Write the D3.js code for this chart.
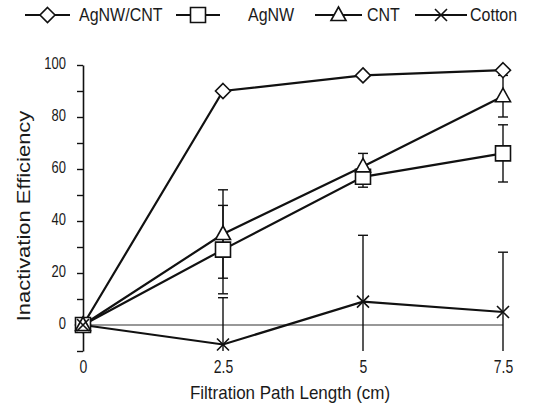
<!DOCTYPE html>
<html>
<head>
<meta charset="utf-8">
<script src="https://cdn.jsdelivr.net/npm/d3@7"></script>
<style>
  html, body { margin: 0; padding: 0; background: #fff; }
  #chart { width: 539px; height: 406px; }
</style>
</head>
<body>
<div id="chart"></div>
<script>
// ========== DATA ==========
const pathLengths = [0, 2.5, 5, 7.5];
const xTickLabels = ["0", "2.5", "5", "7.5"];
const yTickValues = [-10, 0, 10, 20, 30, 40, 50, 60, 70, 80, 90, 100];

const agnwCnt = [0, 90, 96, 98];
const agnwCntErr = [0, 0, 0, 0];
const agnw = [0, 29, 57, 66];
const agnwErr = [0, 17, 4, 11];
const cnt = [0, 35, 61, 88];
const cntErr = [0, 17, 5, 8];
const cotton = [0, -7.5, 9, 5];
const cottonErr = [0, 18, 25.5, 23];

const seriesNames = ["AgNW/CNT", "AgNW", "CNT", "Cotton"];
const seriesMarkers = ["diamond", "square", "triangle", "cross"];

// ========== MARKER SHAPES ==========
function markerPath(type) {
  if (type === "diamond") return "M0,-7.5L7.5,0L0,7.5L-7.5,0Z";
  if (type === "square") return "M-7.5,-7.5H7.5V7.5H-7.5Z";
  if (type === "triangle") return "M0,-8L7.5,5.5H-7.5Z";
  if (type === "cross") return "M-6,-6L6,6M-6,6L6,-6";
}

function drawMarker(group, type, x, y) {
  group.append("path")
    .attr("d", markerPath(type))
    .attr("transform", `translate(${x},${y})`)
    .style("fill", type === "cross" ? "none" : "#fff")
    .style("stroke", "#111")
    .style("stroke-width", 1.6);
}

// text that is a bit stretched, like the scanned figure
function drawText(group, str, x, y, opts = {}) {
  return group.append("text")
    .attr("transform", `translate(${x},${y}) rotate(${opts.rotate || 0}) scale(${opts.sx || 1},${opts.sy || 1})`)
    .style("font-family", "'Liberation Sans', Arial, sans-serif")
    .style("font-size", (opts.size || 14) + "px")
    .style("fill", "#1a1a1a")
    .style("text-anchor", opts.anchor || "start")
    .text(str);
}

// ========== CHART ==========
const width = 539;
const height = 406;

const svg = d3.select("#chart").append("svg")
  .attr("width", width)
  .attr("height", height);

const x = d3.scaleLinear().domain([0, 7.5]).range([83, 503]);
const y = d3.scaleLinear().domain([-10, 100]).range([351, 65]);

svg.append("clipPath").attr("id", "plot-clip")
  .append("rect")
  .attr("x", 0).attr("y", y(100) - 20)
  .attr("width", width).attr("height", y(-10) - y(100) + 20);

// zero line
svg.append("line")
  .attr("x1", x(0)).attr("x2", x(7.5))
  .attr("y1", y(0)).attr("y2", y(0))
  .style("stroke", "#333")
  .style("stroke-width", 1.2);

// y axis
const yAxis = svg.append("g")
  .attr("transform", `translate(${x(0)},0)`)
  .call(d3.axisLeft(y)
    .tickValues(yTickValues)
    .tickSize(6)
    .tickSizeOuter(0)
    .tickFormat(d => (d >= 0 && d % 20 === 0) ? d : ""));

yAxis.select(".domain").style("stroke", "#111").style("stroke-width", 1.6);
yAxis.selectAll(".tick line").style("stroke", "#111").style("stroke-width", 1.4);
yAxis.selectAll(".tick text")
  .attr("x", -17)
  .attr("dy", "0.2em")
  .attr("transform", "scale(1,1.25)")
  .style("font-family", "'Liberation Sans', Arial, sans-serif")
  .style("font-size", "13px")
  .style("fill", "#1a1a1a");

// x tick labels
const xAxis = svg.append("g")
  .attr("transform", `translate(0,${y(-10)})`)
  .call(d3.axisBottom(x)
    .tickValues(pathLengths)
    .tickSize(0)
    .tickFormat((d, i) => xTickLabels[i]));

xAxis.select(".domain").remove();
xAxis.selectAll(".tick text")
  .attr("y", 17.5)
  .attr("dy", 0)
  .attr("transform", "scale(1,1.25)")
  .style("font-family", "'Liberation Sans', Arial, sans-serif")
  .style("font-size", "14px")
  .style("fill", "#1a1a1a");

// axis titles
drawText(svg, "Filtration Path Length (cm)", 290, 399, { size: 17, sy: 1.1, anchor: "middle" });
drawText(svg, "Inactivation Efficiency", 30, 216, { size: 18, sx: 1.22, rotate: -90, anchor: "middle" });

// ========== SERIES ==========
const series = [
  { values: agnwCnt, errors: agnwCntErr },
  { values: agnw, errors: agnwErr },
  { values: cnt, errors: cntErr },
  { values: cotton, errors: cottonErr }
];

const line = d3.line()
  .x((d, i) => x(pathLengths[i]))
  .y(d => y(d));

const errGroup = svg.append("g").attr("clip-path", "url(#plot-clip)");
const lineGroup = svg.append("g");
const markGroup = svg.append("g");

series.forEach((s, k) => {
  // error bars
  s.values.forEach((v, i) => {
    const e = s.errors[i];
    if (!e) return;
    const cx = x(pathLengths[i]);
    errGroup.append("line")
      .attr("x1", cx).attr("x2", cx)
      .attr("y1", y(v + e)).attr("y2", y(v - e))
      .style("stroke", "#111").style("stroke-width", 1.4);
    [v + e, v - e].forEach(c => {
      errGroup.append("line")
        .attr("x1", cx - 5).attr("x2", cx + 5)
        .attr("y1", y(c)).attr("y2", y(c))
        .style("stroke", "#111").style("stroke-width", 1.4);
    });
  });

  lineGroup.append("path")
    .datum(s.values)
    .attr("d", line)
    .style("fill", "none")
    .style("stroke", "#111")
    .style("stroke-width", 2.2);

  s.values.forEach((v, i) => drawMarker(markGroup, seriesMarkers[k], x(pathLengths[i]), y(v)));
});

// ========== LEGEND ==========
const legendLines = [[25, 70], [176, 220], [315, 362], [415, 467]];
const legendText = [79, 248, 367, 470];
const legend = svg.append("g");

seriesNames.forEach((name, k) => {
  const [a, b] = legendLines[k];
  legend.append("line")
    .attr("x1", a).attr("x2", b)
    .attr("y1", 15).attr("y2", 15)
    .style("stroke", "#111").style("stroke-width", 2);
  drawMarker(legend, seriesMarkers[k], (a + b) / 2, 15);
  drawText(legend, name, legendText[k], 21, { size: 16, sy: 1.15 });
});
</script>
</body>
</html>
